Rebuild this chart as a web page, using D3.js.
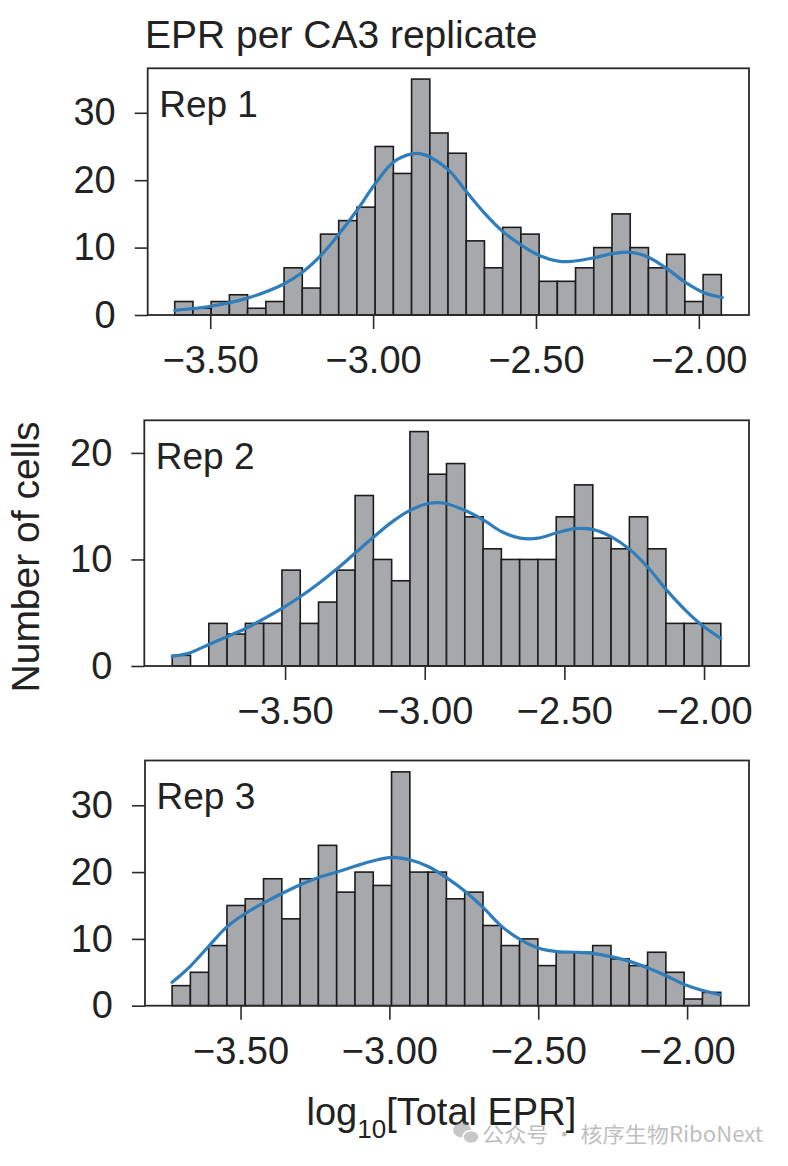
<!DOCTYPE html>
<html>
<head>
<meta charset="utf-8">
<script src="https://cdn.jsdelivr.net/npm/d3@7/dist/d3.min.js"></script>
<style>
  html, body { margin: 0; padding: 0; background: #ffffff; }
  svg { display: block; }
  text { font-family: "Liberation Sans", Arial, Helvetica, sans-serif; }
</style>
</head>
<body>
<svg id="chart" width="788" height="1166"></svg>
<script>
// ---------------- DATA ----------------
const chartTitle = "EPR per CA3 replicate";
const yAxisTitle = "Number of cells";
const repNames = ["Rep 1", "Rep 2", "Rep 3"];
const xTickValues = [-3.5, -3.0, -2.5, -2.0];

// histogram counts (30 bins each)
const counts1 = [2, 1, 2, 3, 1, 2, 7, 4, 12, 14, 16, 25, 21, 35, 27, 24, 11, 7, 13, 12, 5, 5, 7, 10, 15, 10, 7, 9, 2, 6];
const counts2 = [1, 0, 4, 3, 4, 4, 9, 4, 6, 9, 16, 10, 8, 22, 18, 19, 14, 11, 10, 10, 10, 14, 17, 12, 11, 14, 11, 4, 4, 4];
const counts3 = [3, 5, 9, 15, 16, 19, 13, 19, 24, 17, 20, 18, 35, 20, 20, 16, 17, 12, 9, 10, 6, 8, 8, 9, 7, 6, 8, 5, 1, 2];

// first and last bin edges, log10[Total EPR]
const binRange1 = [-3.609, -1.931];
const binRange2 = [-3.904, -1.940];
const binRange3 = [-3.730, -1.887];

// x extent of each panel's axes
const xExtent1 = [-3.692, -1.846];
const xExtent2 = [-4.004, -1.839];
const xExtent3 = [-3.821, -1.792];

// y extent and ticks
const yMax1 = 36.6, yMax2 = 23.06, yMax3 = 36.7;
const yTicks1 = [0, 10, 20, 30];
const yTicks2 = [0, 10, 20];
const yTicks3 = [0, 10, 20, 30];

// density curves
const kdeX1 = [-3.609, -3.498, -3.386, -3.274, -3.218, -3.161, -3.105, -3.050, -2.993, -2.937, -2.881, -2.853, -2.824, -2.768, -2.712, -2.656, -2.600, -2.543, -2.488, -2.432, -2.391, -2.321, -2.265, -2.208, -2.152, -2.096, -2.040, -1.984, -1.928];
const kdeY1 = [0.7, 1.3, 2.5, 4.6, 6.3, 8.8, 12.0, 15.5, 19.5, 22.7, 23.9, 23.9, 23.4, 21.5, 18.2, 15.0, 12.3, 10.3, 8.8, 8.0, 7.95, 8.5, 9.1, 9.3, 8.5, 6.8, 4.8, 3.3, 2.6];

const kdeX2 = [-3.904, -3.840, -3.775, -3.708, -3.643, -3.578, -3.511, -3.446, -3.380, -3.315, -3.249, -3.183, -3.118, -3.053, -2.986, -2.934, -2.855, -2.789, -2.724, -2.658, -2.593, -2.527, -2.461, -2.396, -2.330, -2.264, -2.199, -2.133, -2.067, -2.006, -1.940];
const kdeY2 = [0.9, 1.25, 2.0, 2.75, 3.5, 4.4, 5.4, 6.5, 7.75, 9.1, 10.6, 12.1, 13.5, 14.6, 15.25, 15.3, 14.6, 13.7, 12.6, 12.0, 12.0, 12.5, 12.9, 12.8, 12.1, 10.9, 9.2, 7.1, 5.25, 3.8, 2.6];

const kdeX3 = [-3.730, -3.669, -3.607, -3.546, -3.484, -3.422, -3.361, -3.299, -3.238, -3.176, -3.114, -3.053, -2.991, -2.929, -2.868, -2.806, -2.745, -2.683, -2.621, -2.560, -2.498, -2.437, -2.375, -2.313, -2.252, -2.190, -2.129, -2.067, -2.005, -1.949, -1.888];
const kdeY3 = [3.5, 5.9, 8.9, 11.8, 13.8, 15.4, 16.8, 18.1, 19.2, 20.0, 20.9, 21.7, 22.2, 21.8, 20.8, 19.1, 17.1, 14.6, 11.8, 9.9, 8.6, 8.1, 8.0, 7.8, 7.3, 6.6, 5.6, 4.4, 3.1, 2.3, 1.6];

const watermarkText = "公众号 · 核序生物RiboNext";

// ---------------- LAYOUT ----------------
const svg = d3.select("#chart");
const FONT = 38;
const ink = "#222222";

const panels = [
  { name: repNames[0], counts: counts1, bins: binRange1, xExt: xExtent1, yMax: yMax1, yTicks: yTicks1, kx: kdeX1, ky: kdeY1,
    box: { left: 147.7, right: 749, top: 68.3, bottom: 315 } },
  { name: repNames[1], counts: counts2, bins: binRange2, xExt: xExtent2, yMax: yMax2, yTicks: yTicks2, kx: kdeX2, ky: kdeY2,
    box: { left: 144.3, right: 749, top: 420.3, bottom: 666 } },
  { name: repNames[2], counts: counts3, bins: binRange3, xExt: xExtent3, yMax: yMax3, yTicks: yTicks3, kx: kdeX3, ky: kdeY3,
    box: { left: 145, right: 749, top: 760.5, bottom: 1005.7 } }
];

panels.forEach(p => {
  const b = p.box;
  const xs = d3.scaleLinear().domain(p.xExt).range([b.left, b.right]);
  const ys = d3.scaleLinear().domain([0, p.yMax]).range([b.bottom, b.top]);
  const g = svg.append("g");

  // bars
  const n = p.counts.length;
  const bw = (p.bins[1] - p.bins[0]) / n;
  const binData = p.counts.map((c, i) => ({ x0: p.bins[0] + i * bw, x1: p.bins[0] + (i + 1) * bw, c }));
  g.selectAll("rect.bar").data(binData.filter(d => d.c > 0)).enter().append("rect")
    .attr("class", "bar")
    .attr("x", d => xs(d.x0))
    .attr("width", d => xs(d.x1) - xs(d.x0))
    .attr("y", d => ys(d.c))
    .attr("height", d => ys(0) - ys(d.c))
    .attr("fill", "#a7a8ac")
    .attr("stroke", "#1c1c1c")
    .attr("stroke-width", 1.6);

  // density curve
  const pts = p.kx.map((x, i) => [x, p.ky[i]]);
  g.append("path")
    .datum(pts)
    .attr("d", d3.line().x(d => xs(d[0])).y(d => ys(d[1])).curve(d3.curveCatmullRom.alpha(0.5)))
    .attr("fill", "none")
    .attr("stroke", "#2f7dba")
    .attr("stroke-width", 3.2)
    .attr("stroke-linecap", "round");

  // frame
  g.append("rect")
    .attr("x", b.left).attr("y", b.top)
    .attr("width", b.right - b.left).attr("height", b.bottom - b.top)
    .attr("fill", "none").attr("stroke", "#2a2a2a").attr("stroke-width", 1.8);

  // x axis
  const xAxis = g.append("g")
    .attr("transform", `translate(0,${b.bottom})`)
    .call(d3.axisBottom(xs).tickValues(xTickValues).tickFormat(d3.format(".2f")).tickSize(14).tickPadding(17));
  xAxis.select(".domain").remove();
  xAxis.selectAll("line").attr("stroke", "#2a2a2a").attr("stroke-width", 1.6);
  xAxis.selectAll("text").attr("font-size", FONT).attr("fill", ink)
    .style("font-family", '"Liberation Sans", Arial, Helvetica, sans-serif');

  // y axis
  const yAxis = g.append("g")
    .attr("transform", `translate(${b.left},0)`)
    .call(d3.axisLeft(ys).tickValues(p.yTicks).tickFormat(d3.format("d")).tickSize(13).tickPadding(19));
  yAxis.select(".domain").remove();
  yAxis.selectAll("line").attr("stroke", "#2a2a2a").attr("stroke-width", 1.6);
  yAxis.selectAll("text").attr("font-size", FONT).attr("fill", ink)
    .style("font-family", '"Liberation Sans", Arial, Helvetica, sans-serif');

  // panel label
  g.append("text")
    .attr("x", b.left + 11.5)
    .attr("y", b.top + 48.5)
    .attr("font-size", FONT - 1)
    .attr("fill", ink)
    .text(p.name);
});

// title
svg.append("text")
  .attr("x", 145).attr("y", 48)
  .attr("font-size", 39)
  .attr("fill", ink)
  .text(chartTitle);

// y axis title
svg.append("text")
  .attr("transform", "translate(39,557) rotate(-90)")
  .attr("text-anchor", "middle")
  .attr("font-size", FONT + 1)
  .attr("fill", ink)
  .text(yAxisTitle);

// x axis title: log10[Total EPR]
const xt = svg.append("text")
  .attr("x", 306.5).attr("y", 1125)
  .attr("font-size", FONT)
  .attr("fill", ink);
xt.append("tspan").text("log");
xt.append("tspan").attr("font-size", 26).attr("dy", 13).text("10");
xt.append("tspan").attr("dy", -13).text("[Total EPR]");

// watermark
const wm = svg.append("g").attr("opacity", 0.55);
wm.append("ellipse").attr("cx", 462).attr("cy", 1130).attr("rx", 9).attr("ry", 7.5).attr("fill", "#9a9a9a");
wm.append("ellipse").attr("cx", 471).attr("cy", 1137).attr("rx", 8).attr("ry", 6.5).attr("fill", "#9a9a9a").attr("stroke", "#fff").attr("stroke-width", 1.5);
wm.append("text")
  .attr("x", 482).attr("y", 1142)
  .attr("font-size", 21)
  .attr("fill", "#8a8a8a")
  .attr("textLength", 281)
  .attr("lengthAdjust", "spacingAndGlyphs")
  .style("font-family", '"Noto Sans CJK SC", "Noto Sans", sans-serif')
  .text(watermarkText);
</script>
</body>
</html>
